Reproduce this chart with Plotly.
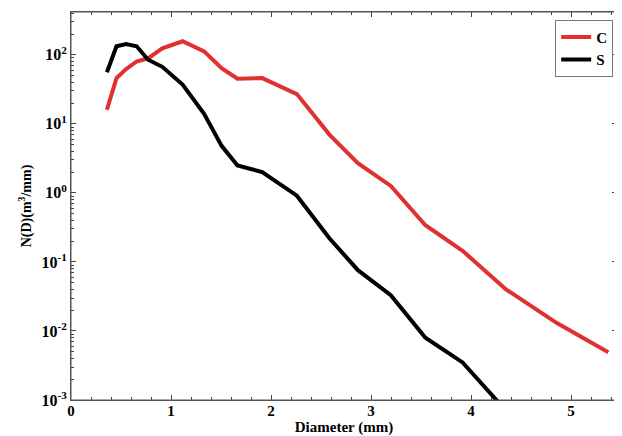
import plotly.graph_objects as go

diameter = [0.359, 0.455, 0.551, 0.656, 0.771, 0.913, 1.116, 1.331, 1.506, 1.665,
            1.912, 2.259, 2.584, 2.869, 3.198, 3.544, 3.916, 4.350, 4.859, 5.373]
nd_c = [16, 46, 62, 80, 89, 124, 157, 112, 64, 45,
        46, 27, 7.0, 2.7, 1.26, 0.34, 0.145, 0.040, 0.013, 0.0049]
nd_s = [56, 133, 143, 133, 85, 67, 37, 14, 4.8, 2.5,
        2.0, 0.91, 0.22, 0.076, 0.033, 0.008, 0.0035, 0.0007]

ytick_vals = [1e-3, 1e-2, 1e-1, 1e0, 1e1, 1e2]
ytick_text = ["10<sup>-3</sup>", "10<sup>-2</sup>", "10<sup>-1</sup>",
              "10<sup>0</sup>", "10<sup>1</sup>", "10<sup>2</sup>"]
ytick_minor = [m * 10.0 ** e for e in range(-3, 3) for m in range(2, 10)]
xtick_vals = [0, 1, 2, 3, 4, 5]

FONT = "Liberation Serif, Times New Roman, serif"

fig = go.Figure()
fig.add_trace(go.Scatter(x=diameter, y=nd_c, mode="lines", name="C",
                         line=dict(color="#e0302f", width=4)))
fig.add_trace(go.Scatter(x=diameter[:len(nd_s)], y=nd_s, mode="lines", name="S",
                         line=dict(color="black", width=4)))
fig.add_trace(go.Scatter(x=[None], y=[None], yaxis="y2", showlegend=False, hoverinfo="skip"))

fig.update_layout(
    width=614, height=428,
    margin=dict(l=63, r=5, t=4, b=36),
    paper_bgcolor="white", plot_bgcolor="white",
    font=dict(family=FONT, color="black"),
    legend=dict(x=0.993, y=0.98, xanchor="right", yanchor="top",
                bordercolor="#777", borderwidth=1, bgcolor="white",
                font=dict(family=FONT, size=15, weight="bold"),
                tracegroupgap=0, itemwidth=30),
    xaxis=dict(range=[0, 5.46], tickvals=xtick_vals, automargin=False,
               ticks="inside", ticklen=5, tickcolor="#444", tickwidth=1,
               showline=True, linecolor="#555", linewidth=1, mirror="ticks",
               ticklabelstandoff=-3,
               showgrid=False, zeroline=False,
               minor=dict(dtick=0.2, ticks="inside", ticklen=3, tickcolor="#444", showgrid=False),
               tickfont=dict(family=FONT, size=15, weight="bold"),
               title=dict(text="Diameter (mm)", standoff=2,
                          font=dict(family=FONT, size=15, weight="bold"))),
    yaxis=dict(type="log", range=[-3, 2.62], tickvals=ytick_vals, ticktext=ytick_text,
               automargin=False,
               ticks="inside", ticklen=5, tickcolor="#444", tickwidth=1,
               showline=True, linecolor="#555", linewidth=1, mirror="ticks",
               showgrid=False, zeroline=False,
               tickfont=dict(family=FONT, size=16, weight="bold"),
               title=dict(text="N(D)(m<sup>3</sup>/mm)", standoff=6,
                          font=dict(family=FONT, size=14, weight="bold"))),
    yaxis2=dict(type="log", range=[-3, 2.62], overlaying="y", side="left",
                tickvals=ytick_minor, showticklabels=False, automargin=False,
                ticks="inside", ticklen=3, tickcolor="#444", mirror="ticks",
                showline=False, showgrid=False, zeroline=False),
    shapes=[dict(type="rect", xref="paper", yref="paper", x0=0, x1=1, y0=0, y1=1,
                 line=dict(color="#555", width=1), layer="above")],
)

fig.write_html("out.html")
